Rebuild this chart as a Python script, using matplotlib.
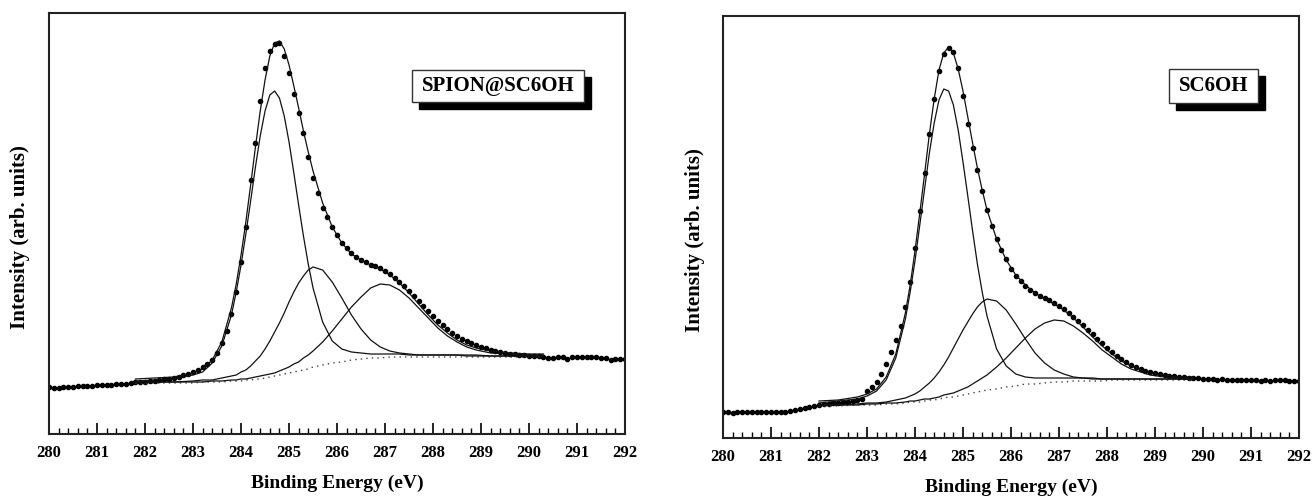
import numpy as np
import matplotlib
matplotlib.use('Agg')
import matplotlib.pyplot as plt
from matplotlib.ticker import MultipleLocator
from matplotlib.patches import Rectangle

# energy grid of the measured points (0.1 eV steps, 280 - 292 eV)
energy = np.round(np.arange(280.0, 292.05, 0.1), 1)

# ---- SPION@SC6OH (left), intensity in arb. units ----
spion_dots = [47, 46, 46, 47, 47, 47, 48, 48, 48, 48,
              49, 49, 49, 49, 50, 50, 50, 51, 52, 52,
              52, 53, 53, 54, 55, 55, 56, 57, 59, 60,
              62, 64, 67, 70, 74, 81, 91, 103, 120, 142,
              172, 207, 254, 291, 333, 366, 383, 390, 391, 378,
              361, 340, 321, 301, 277, 256, 241, 226, 217, 207,
              199, 191, 186, 181, 177, 174, 172, 169, 168, 166,
              163, 160, 156, 152, 148, 143, 138, 133, 128, 123,
              118, 113, 109, 105, 101, 98, 95, 93, 91, 89,
              87, 86, 84, 83, 82, 81, 80, 80, 79, 79,
              78, 78, 78, 77, 76, 76, 77, 77, 75, 77,
              77, 77, 77, 77, 77, 76, 76, 74, 75, 75,
              75]
spion_fit_x = [281.8, 282.2, 282.6, 283.0, 283.2, 283.4, 283.6, 283.8,
               283.9, 284.0, 284.1, 284.2, 284.3, 284.4, 284.5, 284.6, 284.7, 284.8, 284.9,
               285.0, 285.1, 285.2, 285.3, 285.4, 285.5, 285.7, 285.9, 286.1, 286.3, 286.5,
               286.7, 286.9, 287.1, 287.3, 287.5, 287.7, 287.9, 288.1, 288.3, 288.5, 288.7,
               288.9, 289.2, 289.6, 290.0, 290.3]
spion_bg = [51, 51, 51, 51, 52, 52, 52, 53, 53, 53, 54, 54, 55, 55, 56, 57, 58, 59, 60, 61, 62, 63, 64,
            65, 67, 69, 71, 72, 74, 75, 76, 76, 77, 77, 77, 77, 77, 77, 77, 77, 77, 77, 77, 77, 77, 77]
spion_p1 = [53, 54, 55, 59, 62, 71, 88, 119, 142, 169, 200, 233, 267, 298, 323, 339, 343, 336, 318, 292,
            261, 229, 198, 170, 146, 112, 93, 85, 82, 81, 80, 80, 80, 80, 79, 79, 79, 79, 79, 79, 79, 79,
            78, 78, 78, 78]
spion_p2 = [52, 52, 52, 53, 54, 54, 56, 58, 59, 62, 64, 68, 73, 78, 85, 93, 102, 111, 121, 132, 142, 151,
            158, 164, 167, 164, 152, 136, 119, 105, 94, 87, 83, 81, 80, 79, 79, 79, 79, 79, 78, 78, 78, 78,
            78, 78]
spion_p3 = [52, 52, 52, 52, 52, 53, 53, 54, 54, 55, 55, 56, 57, 58, 59, 60, 61, 63, 65, 67, 70, 72, 76,
            79, 83, 92, 103, 115, 127, 137, 146, 150, 149, 144, 136, 126, 116, 106, 98, 92, 87, 84, 81, 80,
            79, 79]
spion_env = [55, 56, 57, 61, 65, 74, 92, 126, 150, 179, 212, 249, 287, 323, 354, 378, 391, 393, 385, 369,
             348, 326, 303, 282, 263, 231, 207, 191, 180, 174, 169, 165, 159, 151, 141, 130, 119, 109, 101,
             94, 89, 86, 83, 81, 80, 80]

# ---- SC6OH (right) ----
sc_dots = [26, 26, 25, 26, 26, 26, 26, 26, 26, 26,
           26, 26, 26, 26, 27, 28, 29, 30, 31, 32,
           33, 34, 34, 35, 35, 36, 36, 37, 38, 39,
           47, 51, 56, 64, 74, 86, 98, 112, 131, 156,
           190, 227, 265, 304, 339, 367, 384, 390, 386, 370,
           342, 314, 290, 268, 247, 228, 212, 199, 188, 179,
           169, 162, 157, 152, 148, 145, 142, 140, 138, 135,
           132, 129, 125, 121, 117, 113, 108, 104, 99, 95,
           90, 86, 82, 79, 76, 73, 71, 69, 67, 66,
           65, 64, 63, 62, 62, 61, 61, 60, 60, 60,
           59, 59, 59, 58, 59, 58, 58, 58, 58, 58,
           58, 58, 57, 58, 57, 58, 58, 58, 57, 57,
           57]
sc_fit_x = [282.0, 282.4, 282.8, 283.0, 283.2, 283.4, 283.6, 283.8,
            283.9, 284.0, 284.1, 284.2, 284.3, 284.4, 284.5, 284.6, 284.7, 284.8, 284.9,
            285.0, 285.1, 285.2, 285.3, 285.4, 285.5, 285.7, 285.9, 286.1, 286.3, 286.5,
            286.7, 286.9, 287.1, 287.3, 287.5, 287.7, 287.9, 288.1, 288.3, 288.5, 288.7,
            288.9, 289.2, 289.5, 289.8]
sc_bg = [32, 32, 33, 33, 33, 34, 34, 35, 36, 36, 36, 37, 38, 38, 39, 40, 41, 41, 42, 43, 44, 45, 46,
         47, 48, 49, 51, 52, 54, 54, 55, 56, 56, 57, 57, 57, 57, 58, 58, 58, 58, 58, 58, 58, 58]
sc_p1 = [35, 37, 39, 42, 47, 58, 80, 119, 146, 177, 213, 249, 285, 315, 338, 349, 347, 333, 308, 276,
         242, 207, 174, 146, 122, 89, 72, 64, 61, 60, 60, 60, 60, 60, 60, 59, 59, 59, 59, 59, 59, 59,
         59, 59, 59]
sc_p2 = [33, 33, 34, 35, 35, 36, 38, 40, 42, 44, 47, 51, 55, 60, 66, 73, 81, 90, 99, 108, 116, 124,
         131, 136, 139, 137, 128, 114, 99, 85, 75, 68, 64, 61, 60, 60, 59, 59, 59, 59, 59, 59, 59, 59, 59]
sc_p3 = [33, 33, 33, 34, 34, 35, 35, 36, 37, 37, 38, 39, 39, 40, 41, 43, 44, 45, 47, 49, 51, 54, 57,
         60, 63, 71, 80, 90, 100, 109, 115, 118, 117, 112, 105, 97, 88, 81, 74, 69, 66, 63, 61, 60, 59]
sc_env = [37, 38, 41, 44, 49, 61, 84, 125, 153, 187, 225, 264, 304, 339, 368, 385, 391, 385, 369, 347,
          321, 295, 270, 248, 228, 199, 178, 163, 153, 145, 139, 134, 128, 120, 111, 101, 92, 84, 77,
          72, 68, 65, 63, 61, 61]

plt.rcParams['font.family'] = ['Liberation Serif', 'DejaVu Serif']
fig = plt.figure(figsize=(13.14, 5.0), dpi=100)
ax1 = fig.add_axes([0.0373, 0.132, 0.4384, 0.842])
ax2 = fig.add_axes([0.5502, 0.124, 0.4384, 0.844])

panels = [
    (ax1, spion_dots, spion_fit_x, spion_bg, [spion_p1, spion_p2, spion_p3], spion_env, 421,
     'SPION@SC6OH', (0.630, 0.789, 0.299, 0.076), -0.033),
    (ax2, sc_dots, sc_fit_x, sc_bg, [sc_p1, sc_p2, sc_p3], sc_env, 422,
     'SC6OH', (0.774, 0.794, 0.1545, 0.0806), -0.031),
]

for ax, dots, fx, bg, peaks, env, top, lab, box, ylx in panels:
    ax.plot(energy, dots, 'o', color='black', ms=3)
    ax.plot(fx, bg, color='#444444', lw=1, ls=(0, (1, 3)))
    for p in peaks:
        ax.plot(fx, p, color='#111111', lw=0.9)
    ax.plot(fx, env, color='#111111', lw=0.9)
    ax.set_xlim(280, 292)
    ax.set_ylim(0, top)
    ax.set_yticks([])
    ax.xaxis.set_major_locator(MultipleLocator(1))
    ax.xaxis.set_minor_locator(MultipleLocator(0.2))
    ax.tick_params(axis='x', which='major', direction='in', length=8, width=1.2, labelsize=12, pad=8)
    ax.tick_params(axis='x', which='minor', direction='in', length=4, width=1.0)
    for t in ax.get_xticklabels():
        t.set_fontweight('bold')
    for s in ax.spines.values():
        s.set_linewidth(1.5)
        s.set_color('#222222')
    ax.set_xlabel('Binding Energy (eV)', fontsize=14, fontweight='bold', labelpad=10)
    ax.set_ylabel('Intensity (arb. units)', fontsize=15, fontweight='bold')
    ax.yaxis.set_label_coords(ylx, 0.468)
    # label box with a drop shadow
    bx, by, bw, bh = box
    ax.add_patch(Rectangle((bx + 0.0122, by - 0.0166), bw, bh, transform=ax.transAxes,
                           facecolor='black', edgecolor='black'))
    ax.add_patch(Rectangle((bx, by), bw, bh, transform=ax.transAxes,
                           facecolor='white', edgecolor='#333333', lw=1))
    ax.text(bx + bw / 2, by + bh / 2, lab, transform=ax.transAxes, ha='center', va='center',
            fontsize=15, fontweight='bold')

fig.savefig('out.png', dpi=100)
